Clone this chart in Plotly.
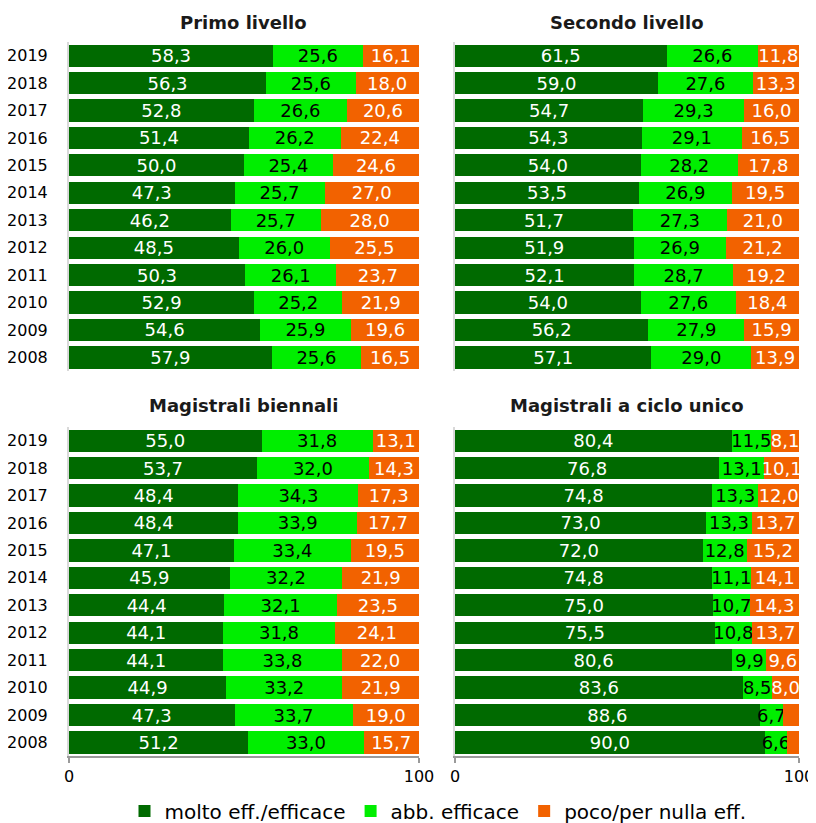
import plotly.graph_objects as go

years = ["2019", "2018", "2017", "2016", "2015", "2014", "2013", "2012", "2011", "2010", "2009", "2008"]
series_names = ["molto eff./efficace", "abb. efficace", "poco/per nulla eff."]

panel_titles = ["Primo livello", "Secondo livello", "Magistrali biennali", "Magistrali a ciclo unico"]

primo_molto = [58.3, 56.3, 52.8, 51.4, 50.0, 47.3, 46.2, 48.5, 50.3, 52.9, 54.6, 57.9]
primo_abb = [25.6, 25.6, 26.6, 26.2, 25.4, 25.7, 25.7, 26.0, 26.1, 25.2, 25.9, 25.6]
primo_poco = [16.1, 18.0, 20.6, 22.4, 24.6, 27.0, 28.0, 25.5, 23.7, 21.9, 19.6, 16.5]

secondo_molto = [61.5, 59.0, 54.7, 54.3, 54.0, 53.5, 51.7, 51.9, 52.1, 54.0, 56.2, 57.1]
secondo_abb = [26.6, 27.6, 29.3, 29.1, 28.2, 26.9, 27.3, 26.9, 28.7, 27.6, 27.9, 29.0]
secondo_poco = [11.8, 13.3, 16.0, 16.5, 17.8, 19.5, 21.0, 21.2, 19.2, 18.4, 15.9, 13.9]

bien_molto = [55.0, 53.7, 48.4, 48.4, 47.1, 45.9, 44.4, 44.1, 44.1, 44.9, 47.3, 51.2]
bien_abb = [31.8, 32.0, 34.3, 33.9, 33.4, 32.2, 32.1, 31.8, 33.8, 33.2, 33.7, 33.0]
bien_poco = [13.1, 14.3, 17.3, 17.7, 19.5, 21.9, 23.5, 24.1, 22.0, 21.9, 19.0, 15.7]

ciclo_molto = [80.4, 76.8, 74.8, 73.0, 72.0, 74.8, 75.0, 75.5, 80.6, 83.6, 88.6, 90.0]
ciclo_abb = [11.5, 13.1, 13.3, 13.3, 12.8, 11.1, 10.7, 10.8, 9.9, 8.5, 6.7, 6.6]
ciclo_poco = [8.1, 10.1, 12.0, 13.7, 15.2, 14.1, 14.3, 13.7, 9.6, 8.0, 4.7, 3.4]
ciclo_poco_labels = ["8,1", "10,1", "12,0", "13,7", "15,2", "14,1", "14,3", "13,7", "9,6", "8,0", "", ""]

x_ticks = [0, 100]

colors = ["#006a00", "#00ee00", "#f26200"]
text_colors = ["white", "black", "white"]

FONT = "DejaVu Sans"

def fmt(v):
    return f"{v:.1f}".replace(".", ",")

panels = [
    (primo_molto, primo_abb, primo_poco, None),
    (secondo_molto, secondo_abb, secondo_poco, None),
    (bien_molto, bien_abb, bien_poco, None),
    (ciclo_molto, ciclo_abb, ciclo_poco, ciclo_poco_labels),
]

# page body has an 8px margin: figure drawn at offset (8, 8)
OFF = 8
W, H = 808, 823

def px(x):
    return (x - OFF) / W

def py(y):
    return 1 - (y - OFF) / H

xdoms = [(px(69), px(419)), (px(455), px(799))]
ydoms = [(py(372), py(42)), (py(758), py(428))]

fig = go.Figure()
for i, (m, a, p, plabels) in enumerate(panels):
    ax = "" if i == 0 else str(i + 1)
    for k, vals in enumerate([m, a, p]):
        txt = [fmt(v) for v in vals]
        if k == 2 and plabels is not None:
            txt = plabels
        fig.add_trace(go.Bar(
            y=years, x=vals, orientation="h",
            name=series_names[k],
            marker=dict(color=colors[k], line=dict(width=0)),
            text=txt, textposition="inside", insidetextanchor="middle",
            textangle=0, constraintext="none",
            textfont=dict(family=FONT, size=18, color=text_colors[k]),
            xaxis="x" + ax, yaxis="y" + ax,
            showlegend=(i == 0), legendgroup=series_names[k],
            hoverinfo="skip",
        ))

layout = dict(
    width=W, height=H, margin=dict(l=0, r=0, t=0, b=0),
    barmode="stack", bargap=0.19,
    plot_bgcolor="white", paper_bgcolor="white",
    font=dict(family=FONT, size=16, color="black"),
    legend=dict(orientation="h", x=px(438), xanchor="center", y=py(813), yanchor="middle",
                font=dict(family=FONT, size=20), itemwidth=30, tracegroupgap=0),
)
for i in range(4):
    r, c = divmod(i, 2)
    ax = "" if i == 0 else str(i + 1)
    bottom = r == 1
    layout["xaxis" + ax] = dict(
        domain=xdoms[c], range=[0, 100], anchor="y" + ax,
        showgrid=False, zeroline=False, automargin=False,
        showline=bottom, linecolor="#9a9a9a", linewidth=2, mirror=False,
        ticks="outside" if bottom else "", tickcolor="#9a9a9a", ticklen=5, tickwidth=2,
        tickvals=x_ticks, ticktext=[str(t) for t in x_ticks],
        showticklabels=bottom, tickfont=dict(size=16),
        fixedrange=True, layer="above traces",
    )
    layout["yaxis" + ax] = dict(
        domain=ydoms[r], anchor="x" + ax,
        categoryorder="array", categoryarray=years[::-1],
        showgrid=False, zeroline=False, automargin=False,
        showline=True, linecolor="#d9d9d9", linewidth=2,
        ticks="", ticklabelstandoff=16, tickfont=dict(size=16),
        showticklabels=(c == 0),
        fixedrange=True,
    )
fig.update_layout(**layout)

title_y = [py(23), py(406)]
for i, t in enumerate(panel_titles):
    r, c = divmod(i, 2)
    fig.add_annotation(
        text=f"<b>{t}</b>", xref="paper", yref="paper",
        x=(xdoms[c][0] + xdoms[c][1]) / 2, y=title_y[r],
        xanchor="center", yanchor="middle", showarrow=False,
        font=dict(family=FONT, size=18, color="#1a1a1a"),
    )

fig.write_html("out.html")
